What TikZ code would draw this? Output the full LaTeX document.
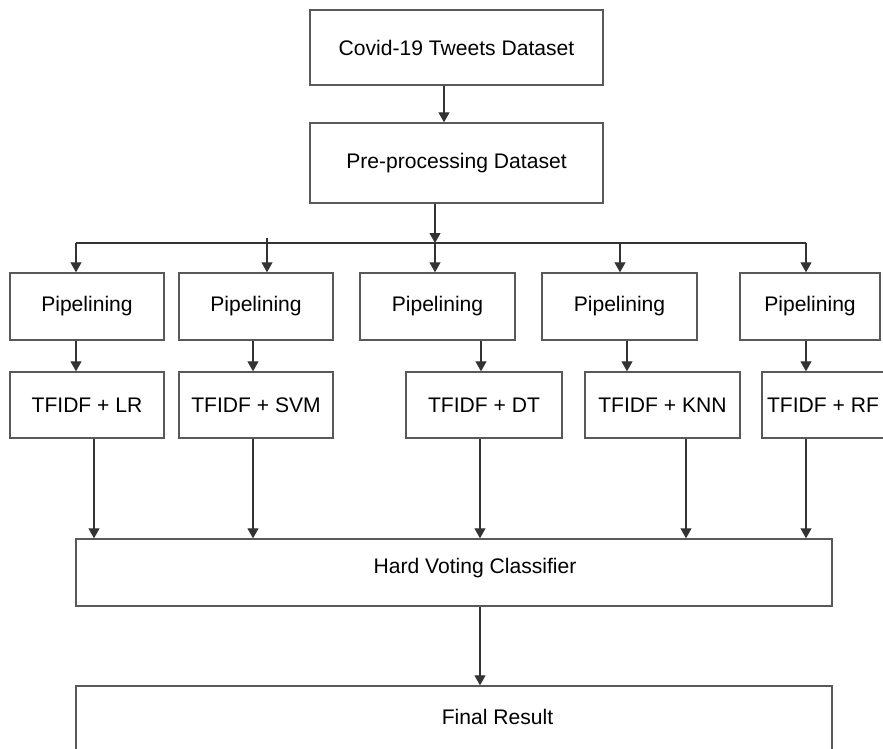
\documentclass[tikz,border=0pt]{standalone}
\usepackage{fontspec}
\setmainfont{Liberation Sans}
\usetikzlibrary{arrows.meta}

\begin{document}
\begin{tikzpicture}[
  font=\fontsize{12}{14}\selectfont,
  box/.style={draw=black!65, line width=0.8pt, align=center, inner sep=0pt},
  pipe/.style={box, minimum height=1.34cm},
  model/.style={box, minimum height=1.32cm},
  wide/.style={box, minimum width=15.12cm},
  edge/.style={-{Triangle[length=2mm,width=2.2mm]}, draw=black!80, line width=0.7pt},
  bus/.style={draw=black!80, line width=0.7pt}
]
\useasboundingbox (0,0) rectangle (17.66,-14.98);
\clip (0,0) rectangle (17.66,-14.98);

% input and pre-processing
\node[box, minimum width=5.86cm, minimum height=1.5cm] (data) at (9.13,-0.95) {Covid-19 Tweets Dataset};
\node[box, minimum width=5.86cm, minimum height=1.6cm] (prep) at (9.13,-3.26) {Pre-processing Dataset};

% pipelines
\node[pipe, minimum width=3.08cm] (p1) at (1.74,-6.13) {Pipelining};
\node[pipe, minimum width=3.08cm] (p2) at (5.12,-6.13) {Pipelining};
\node[pipe, minimum width=3.1cm] (p3) at (8.75,-6.13) {Pipelining};
\node[pipe, minimum width=3.1cm] (p4) at (12.39,-6.13) {Pipelining};
\node[pipe, minimum width=2.8cm] (p5) at (16.2,-6.13) {Pipelining};

% models
\node[model, minimum width=3.08cm] (t1) at (1.74,-8.1) {TFIDF + LR};
\node[model, minimum width=3.08cm] (t2) at (5.12,-8.1) {TFIDF + SVM};
\node[model, minimum width=3.12cm] (t3) at (9.68,-8.1) {TFIDF + DT};
\node[model, minimum width=3.1cm] (t4) at (13.25,-8.1) {TFIDF + KNN};
\node[model, minimum width=2.44cm] (t5) at (16.46,-8.1) {TFIDF + RF};

% voting and result
\node[wide, minimum height=1.34cm, label={[xshift=0.42cm, yshift=0.09cm]center:Hard Voting Classifier}] (hv) at (9.08,-11.45) {};
\node[wide, minimum height=1.48cm, label={[xshift=0.87cm, yshift=0.12cm]center:Final Result}] (final) at (9.08,-14.46) {};

% connector columns
\foreach \i/\x in {1/1.52,2/5.34,3/8.7,4/12.4,5/16.12} \coordinate (b\i) at (\x,-4.86);
\foreach \i/\x in {1/1.52,2/5.06,3/9.62,4/12.54,5/16.12} \coordinate (m\i) at (\x,0);
\foreach \i/\x in {1/1.88,2/5.06,3/9.6,4/13.72,5/16.12} \coordinate (v\i) at (\x,0);

\draw[edge] ([xshift=-0.25cm]data.south) -- ([xshift=-0.25cm]prep.north);
\draw[edge] (prep.south -| b3) -- (b3);
\draw[bus] (b1) -- (b5);
\draw[edge] ([yshift=0.1cm]b2) -- (p2.north -| b2);
\foreach \i in {1,3,4,5} \draw[edge] (b\i) -- (p\i.north -| b\i);
\foreach \i in {1,...,5} \draw[edge] (p\i.south -| m\i) -- (t\i.north -| m\i);
\foreach \i in {1,...,5} \draw[edge] (t\i.south -| v\i) -- (hv.north -| v\i);
\draw[edge] (hv.south -| v3) -- (final.north -| v3);
\end{tikzpicture}
\end{document}
